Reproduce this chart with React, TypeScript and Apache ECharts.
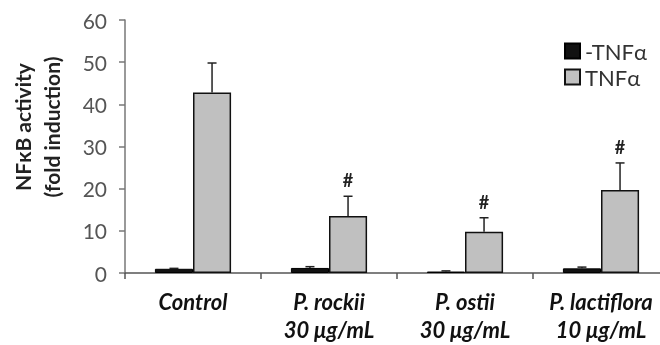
import React, { useEffect, useRef } from "react";
import * as echarts from "echarts";

const categories = ["Control", "P. rockii\n30 μg/mL", "P. ostii\n30 μg/mL", "P. lactiflora\n10 μg/mL"];
const noTnfValues = [1.0, 1.2, 0.35, 1.1];
const noTnfErrors = [0.1, 0.3, 0.15, 0.3];
const tnfValues = [42.8, 13.5, 9.8, 19.7];
const tnfErrors = [7.0, 4.7, 3.3, 6.4];
const significance = ["", "#", "#", "#"];
const yTicks = [0, 10, 20, 30, 40, 50, 60];

const FONT = "Lato, 'Open Sans', sans-serif";

export default function App() {
  const ref = useRef<HTMLDivElement>(null);
  useEffect(() => {
    if (!ref.current) return;
    const chart = echarts.init(ref.current, null, { renderer: "svg" });
    const errRender = (sign: number) => (params: any, api: any) => {
      const ci = api.value(0);
      const v = api.value(1);
      const e = api.value(2);
      const band = api.size([1, 0])[0];
      const off = sign * band * 0.14;
      const base = api.coord([ci, v]);
      const top = api.coord([ci, v + e]);
      const x = base[0] + off;
      const children: any[] = [
        { type: "line", shape: { x1: x, y1: base[1], x2: x, y2: top[1] }, style: { stroke: "#222", lineWidth: 1.5 } },
        { type: "line", shape: { x1: x - 4.5, y1: top[1], x2: x + 4.5, y2: top[1] }, style: { stroke: "#222", lineWidth: 1.5 } },
      ];
      if (sign > 0 && significance[params.dataIndex]) {
        children.push({
          type: "text",
          style: {
            x: x,
            y: top[1] - 16,
            text: significance[params.dataIndex],
            fill: "#222",
            font: `bold 18px ${FONT}`,
            align: "center",
            verticalAlign: "middle",
          },
        });
      }
      return { type: "group", children };
    };
    chart.setOption({
      animation: false,
      grid: { left: 125, right: -9, top: 20, bottom: 72, outerBoundsMode: "none", containLabel: false },
      legend: {
        orient: "vertical",
        left: 559,
        top: 35,
        icon: "rect",
        itemWidth: 15,
        itemHeight: 15,
        itemGap: 4,
        textStyle: { color: "#333", fontSize: 22, fontFamily: FONT },
        data: ["-TNFα", "TNFα"],
      },
      graphic: [
        {
          type: "text",
          x: 37,
          y: 127,
          rotation: Math.PI / 2,
          style: {
            text: "NFκB activity\n(fold induction)",
            font: `bold 21px ${FONT}`,
            fill: "#222",
            align: "center",
            verticalAlign: "middle",
            lineHeight: 29,
          },
        },
      ],
      xAxis: {
        type: "category",
        data: categories,
        axisLine: { lineStyle: { color: "#555", width: 1.5 } },
        axisTick: { show: true, length: 6, inside: false, lineStyle: { color: "#555", width: 1.5 } },
        axisLabel: {
          color: "#111",
          fontSize: 22,
          fontWeight: "bold",
          fontStyle: "italic",
          fontFamily: FONT,
          margin: 14,
          lineHeight: 28,
          interval: 0,
        },
      },
      yAxis: {
        type: "value",
        min: yTicks[0],
        max: yTicks[yTicks.length - 1],
        interval: 10,
        splitLine: { show: false },
        axisLine: { show: true, lineStyle: { color: "#777", width: 1.5 } },
        axisTick: { show: true, length: 6, lineStyle: { color: "#777", width: 1.5 } },
        axisLabel: { color: "#555", fontSize: 21, fontFamily: FONT, margin: 18 },
      },
      series: [
        {
          name: "-TNFα",
          type: "bar",
          data: noTnfValues,
          barWidth: "28%",
          barGap: "0%",
          itemStyle: { color: "#111", borderColor: "#000", borderWidth: 1 },
        },
        {
          name: "TNFα",
          type: "bar",
          data: tnfValues,
          barWidth: "28%",
          barGap: "0%",
          itemStyle: { color: "#c0c0c0", borderColor: "#111", borderWidth: 1.5 },
        },
        {
          type: "custom",
          renderItem: errRender(-1),
          data: noTnfValues.map((v, i) => [i, v, noTnfErrors[i]]),
          z: 5,
        },
        {
          type: "custom",
          renderItem: errRender(1),
          data: tnfValues.map((v, i) => [i, v, tnfErrors[i]]),
          z: 5,
        },
      ],
    });
    return () => chart.dispose();
  }, []);
  return <div ref={ref} style={{ position: "fixed", left: 0, top: 0, width: 660, height: 345 }} />;
}
